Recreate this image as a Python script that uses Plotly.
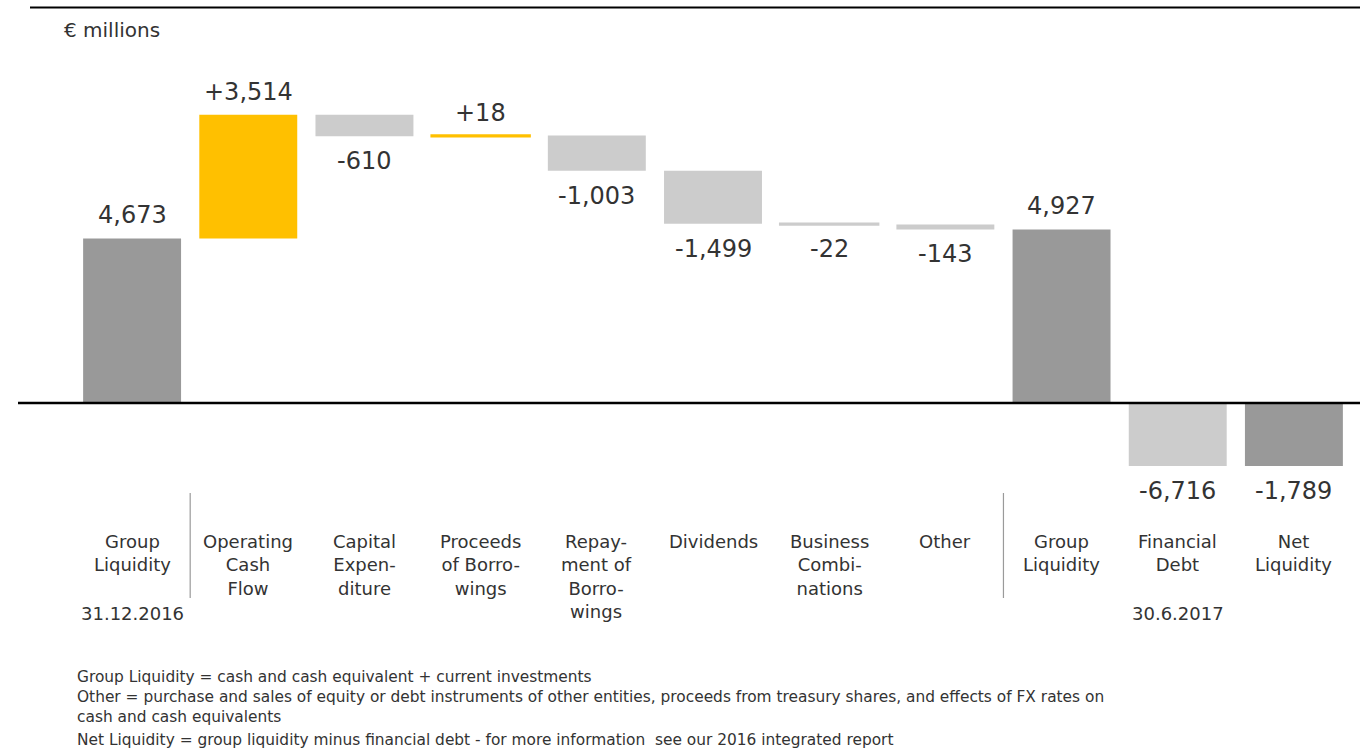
import plotly.graph_objects as go

# ---------------- data ----------------
categories = ["Group Liquidity", "Operating Cash Flow", "Capital Expenditure",
              "Proceeds of Borrowings", "Repayment of Borrowings", "Dividends",
              "Business Combinations", "Other", "Group Liquidity (end)",
              "Financial Debt", "Net Liquidity"]
category_labels = ["Group<br>Liquidity", "Operating<br>Cash<br>Flow", "Capital<br>Expen-<br>diture",
                   "Proceeds<br>of Borro-<br>wings", "Repay-<br>ment of<br>Borro-<br>wings", "Dividends",
                   "Business<br>Combi-<br>nations", "Other", "Group<br>Liquidity",
                   "Financial<br>Debt", "Net<br>Liquidity"]
values = [4673, 3514, -610, 18, -1003, -1499, -22, -143, 4927, -6716, -1789]
kinds = ["total", "delta", "delta", "delta", "delta", "delta", "delta", "delta",
         "total", "total", "total"]
date_labels = {0: "31.12.2016", 9: "30.6.2017"}
footnotes = [
    "Group Liquidity = cash and cash equivalent + current investments",
    "Other = purchase and sales of equity or debt instruments of other entities, proceeds from treasury shares, and effects of FX rates on",
    "cash and cash equivalents",
    "Net Liquidity = group liquidity minus financial debt - for more information  see our 2016 integrated report",
]
unit_label = "€ millions"

# ---------------- style ----------------
W, H = 1360, 749
ML, MR, MT, MB = 74, 8, 60, 283
PW, PH = W - ML - MR, H - MT - MB
Y_RANGE = [-1789, 9740]
DARK = "#999999"
LIGHT = "#CCCCCC"
YELLOW = "#FFC000"
TEXT = "#333333"
FONT = "'DejaVu Sans', 'Open Sans', Arial, sans-serif"


def py(pixel_y):
    return (MT + PH - pixel_y) / PH


def px(pixel_x):
    return (pixel_x - ML) / PW


# ---------------- derive bars ----------------
bases, colors, texts = [], [], []
running = 0
for i, (v, k) in enumerate(zip(values, kinds)):
    if k == "total":
        bases.append(0)
        running = v
        colors.append(LIGHT if categories[i] == "Financial Debt" else DARK)
        texts.append(f"{v:,}")
    else:
        bases.append(running)
        running += v
        colors.append(YELLOW if v > 0 else LIGHT)
        texts.append(f"{v:+,}")

line_w = [2.5 if abs(v) < 50 else 0 for v in values]

fig = go.Figure(go.Bar(
    x=categories, y=values, base=bases,
    marker=dict(color=colors, line=dict(color=colors, width=line_w)),
    hoverinfo="skip",
))

annotations = []
for i, (v, b, k) in enumerate(zip(values, bases, kinds)):
    top, bottom = max(b, b + v), min(b, b + v)
    if v > 0:
        annotations.append(dict(x=categories[i], y=top, xref="x", yref="y", text=texts[i],
                                showarrow=False, yanchor="middle", yshift=23,
                                font=dict(size=24, color=TEXT, family=FONT)))
    else:
        yb = max(bottom, Y_RANGE[0])
        annotations.append(dict(x=categories[i], y=yb, xref="x", yref="y", text=texts[i],
                                showarrow=False, yanchor="middle", yshift=-25,
                                font=dict(size=24, color=TEXT, family=FONT)))

for i, lab in enumerate(category_labels):
    annotations.append(dict(x=categories[i], y=py(529), xref="x", yref="paper", text=lab,
                            showarrow=False, yanchor="top", align="center",
                            font=dict(size=18, color=TEXT, family=FONT)))
for i, d in date_labels.items():
    annotations.append(dict(x=categories[i], y=py(613), xref="x", yref="paper", text=d,
                            showarrow=False, yanchor="middle",
                            font=dict(size=18, color=TEXT, family=FONT)))

annotations.append(dict(x=px(62), y=py(30), xref="paper", yref="paper", text=unit_label,
                        showarrow=False, xanchor="left", yanchor="middle",
                        font=dict(size=20, color=TEXT, family=FONT)))

for j, (t, yc) in enumerate(zip(footnotes, [677, 697, 717, 740])):
    annotations.append(dict(x=px(75), y=py(yc), xref="paper", yref="paper", text=t,
                            showarrow=False, xanchor="left", yanchor="middle",
                            font=dict(size=15.4, color=TEXT, family=FONT)))

shapes = [
    dict(type="line", xref="paper", yref="y", x0=px(18), x1=px(1362), y0=0, y1=0,
         line=dict(color="black", width=2.5), layer="above"),
    dict(type="line", xref="paper", yref="paper", x0=px(30), x1=px(1362), y0=py(7.5), y1=py(7.5),
         line=dict(color="black", width=2)),
    dict(type="line", xref="x", yref="paper", x0=0.5, x1=0.5, y0=py(493), y1=py(598),
         line=dict(color="#9a9a9a", width=1.2)),
    dict(type="line", xref="x", yref="paper", x0=7.5, x1=7.5, y0=py(493), y1=py(598),
         line=dict(color="#9a9a9a", width=1.2)),
]

fig.update_layout(
    width=W, height=H,
    margin=dict(l=ML, r=MR, t=MT, b=MB, pad=0),
    paper_bgcolor="white", plot_bgcolor="white",
    showlegend=False, bargap=0.157,
    xaxis=dict(showticklabels=False, showgrid=False, zeroline=False, showline=False,
               ticks="", fixedrange=True),
    yaxis=dict(range=Y_RANGE, showticklabels=False, showgrid=False, zeroline=False,
               showline=False, ticks="", fixedrange=True),
    annotations=annotations,
    shapes=shapes,
    font=dict(family=FONT, color=TEXT),
)

fig.write_html("out.html", config={"displayModeBar": False},
               post_script="document.body.style.margin='0';document.body.style.overflow='hidden';")
